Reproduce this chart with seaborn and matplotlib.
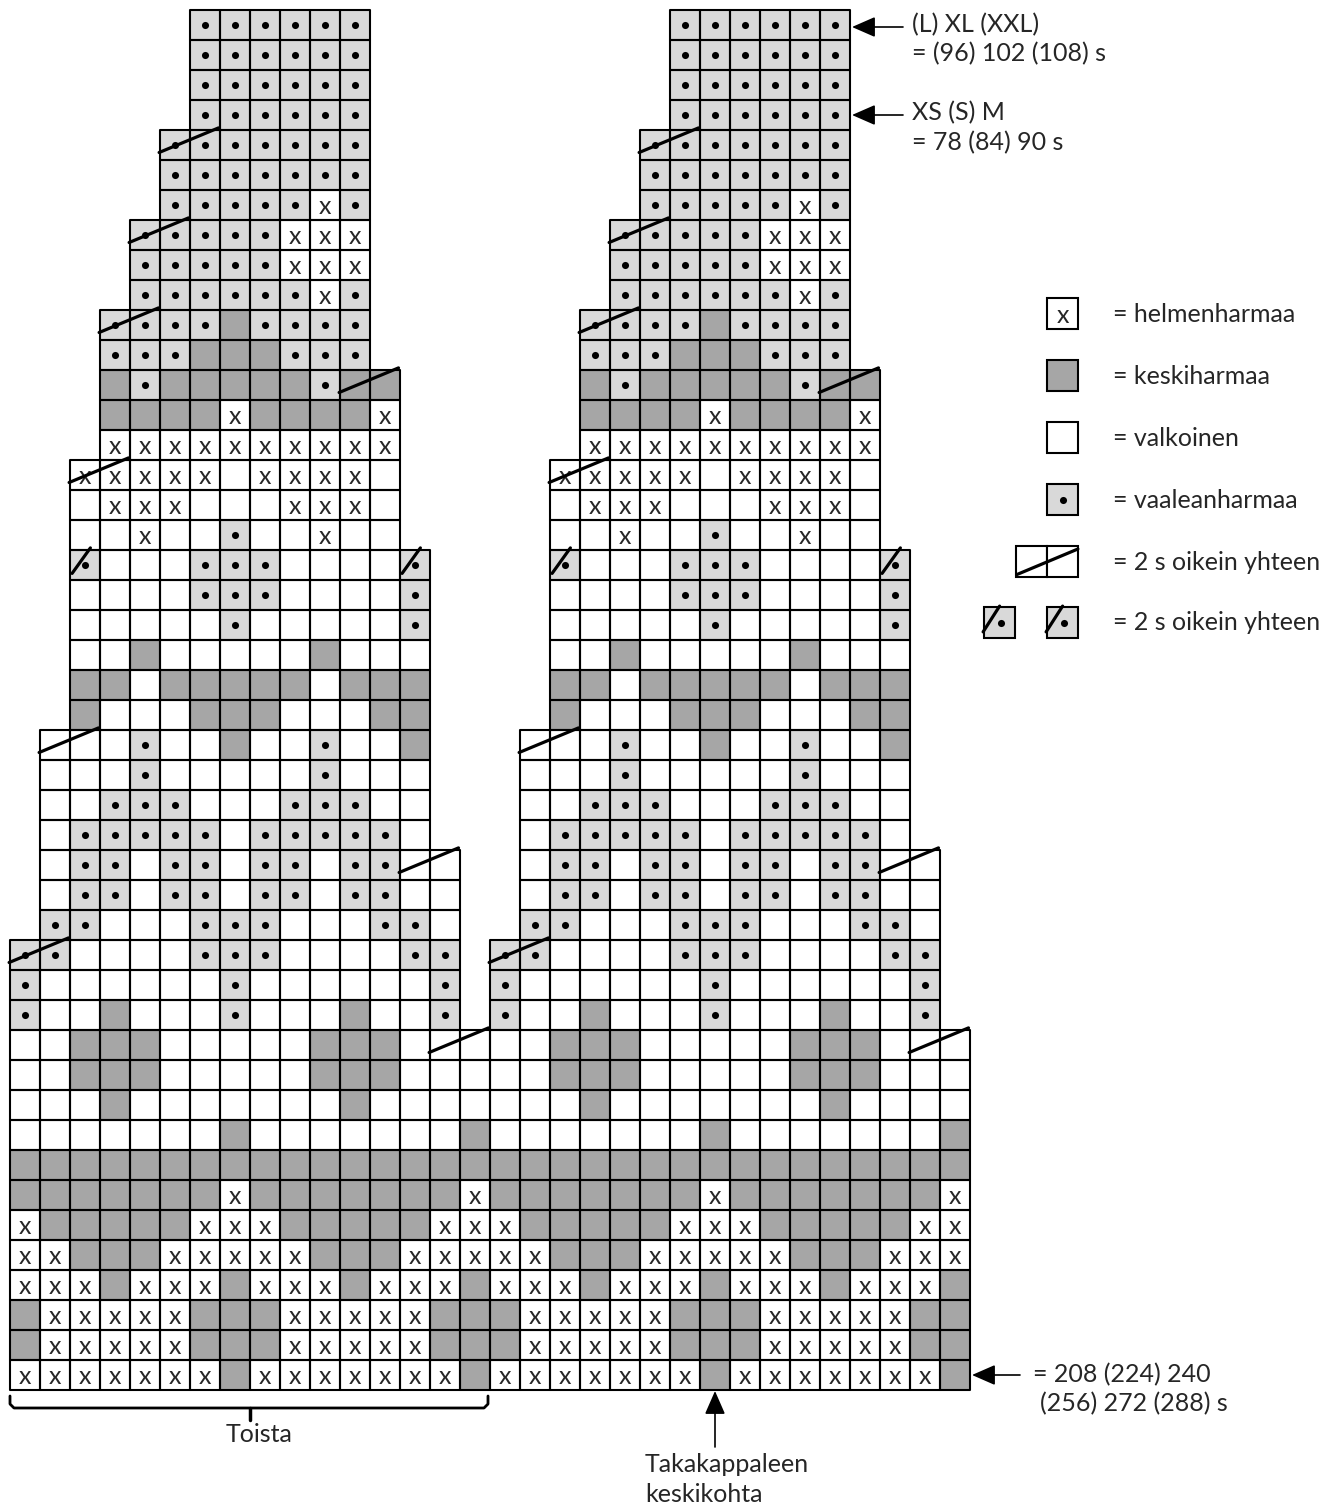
import numpy as np
import pandas as pd
import matplotlib
matplotlib.use('Agg')
import matplotlib.pyplot as plt
from matplotlib.colors import ListedColormap
from matplotlib.patches import Rectangle
from matplotlib.collections import PatchCollection
import seaborn as sns

# ---- chart data: rows from top to bottom ----
# x = helmenharmaa, d = keskiharmaa, w = valkoinen, o = vaaleanharmaa
row_start = [6, 6, 6, 6, 5, 5, 5, 4, 4, 4, 3, 3, 3, 3, 3,
             2, 2, 2, 2, 2, 2, 2, 2, 2, 1, 1, 1, 1, 1, 1, 1,
             0, 0, 0, 0, 0, 0, 0, 0, 0, 0, 0, 0, 0, 0, 0]
row_cells = [
    "oooooo", "oooooo", "oooooo", "oooooo",
    "ooooooo", "ooooooo", "oooooxo",
    "oooooxxx", "oooooxxx", "ooooooxo",
    "oooodoooo", "ooodddooo", "dodddddodd", "ddddxddddx", "xxxxxxxxxx",
    "xxxxxwxxxxw", "wxxxwwwxxxw", "wwxwwowwxww",
    "owwwooowwwwo", "wwwwooowwwwo", "wwwwwowwwwwo",
    "wwdwwwwwdwww", "ddwdddddwddd", "dwwwdddwwwdd",
    "wwwowwdwwowwd", "wwwowwwwwowww", "wwooowwwoooww", "wooooowooooow",
    "woowoowoowooww", "woowoowoowooww", "oowwwooowwwoow",
    "oowwwwooowwwwoo", "owwwwwwowwwwwwo", "owwdwwwowwwdwwo",
    "wwdddwwwwwdddwww", "wwdddwwwwwdddwww", "wwwdwwwwwwwdwwww",
    "wwwwwwwdwwwwwwwd", "dddddddddddddddd", "dddddddxdddddddx",
    "xdddddxxxdddddxx", "xxdddxxxxxdddxxx", "xxxdxxxdxxxdxxxd",
    "dxxxxxdddxxxxxdd", "dxxxxxdddxxxxxdd", "xxxxxxxdxxxxxxxd",
]
# decreases: (row counted from bottom, left column)
two_together = [(41, 5), (38, 4), (35, 3), (33, 11), (30, 2),
                (21, 1), (17, 13), (14, 0), (11, 14)]
slash_cells = [(27, 2), (27, 13)]
chart_cols = 16
repeats = 2

legend_labels = ["= helmenharmaa", "= keskiharmaa", "= valkoinen",
                 "= vaaleanharmaa", "= 2 s oikein yhteen", "= 2 s oikein yhteen"]

colour_value = {'x': 0, 'w': 0, 'o': 1, 'd': 2}
light = '#d9d9d9'
dark = '#a6a6a6'

# ---- build grid ----
n_rows = len(row_cells)
n_cols = chart_cols * repeats
codes = np.full((n_rows, n_cols), '', dtype=object)
for i, (s, cells) in enumerate(zip(row_start, row_cells)):
    for k in range(repeats):
        for j, ch in enumerate(cells):
            codes[i, k * chart_cols + s + j] = ch

vals = pd.DataFrame([[colour_value.get(c, np.nan) for c in row] for row in codes], dtype=float)

sns.set_style('white')
plt.rcParams['font.family'] = ['Lato', 'DejaVu Sans']

fig = plt.figure(figsize=(13.38, 15.08), dpi=100)
ax = fig.add_axes([0, 0, 1, 1])
sns.heatmap(vals, mask=vals.isna(), cmap=ListedColormap(['white', light, dark]),
            vmin=-0.5, vmax=2.5, linewidths=0, cbar=False,
            xticklabels=False, yticklabels=False, ax=ax)

# cell borders only where there is a stitch
edges = [Rectangle((j, i), 1, 1) for i in range(n_rows) for j in range(n_cols) if codes[i, j]]
ax.add_collection(PatchCollection(edges, facecolor='none', edgecolor='black',
                                  linewidth=1.5, zorder=2))


def px(x, y):
    # pixel position of the picture -> cell units
    return (x - 10) / 30, (y - 10) / 30


ax.set_xlim(px(0, 0)[0], px(1338, 0)[0])
ax.set_ylim(px(0, 1508)[1], px(0, 0)[1])
ax.axis('off')

# symbols in cells
dot_x, dot_y = [], []
for i in range(n_rows):
    for j in range(n_cols):
        if codes[i, j] == 'x':
            ax.text(j + 0.5, i + 0.55, 'x', ha='center', va='center', fontsize=18)
        elif codes[i, j] == 'o':
            dot_x.append(j + 0.5)
            dot_y.append(i + 0.5)
ax.scatter(dot_x, dot_y, s=26, color='black', zorder=3, linewidths=0)

for r, c in two_together:
    i = n_rows - 1 - r
    for k in range(repeats):
        x0 = k * chart_cols + c
        ax.plot([x0 - 0.03, x0 + 1.95], [i + 0.75, i - 0.07], color='black',
                lw=2.3, solid_capstyle='round', zorder=4)
for r, c in slash_cells:
    i = n_rows - 1 - r
    for k in range(repeats):
        x0 = k * chart_cols + c
        ax.plot([x0 + 0.07, x0 + 0.68], [i + 0.78, i - 0.07], color='black',
                lw=2.3, solid_capstyle='round', zorder=4)

# ---- legend ----
legend_y = [298, 360, 422, 484, 546, 607]
text_kw = dict(fontsize=18, va='center')
lw_box = 1.5


def box(x, y, fc):
    x0, y0 = px(x, y)
    ax.add_patch(Rectangle((x0, y0), 31 / 30, 31 / 30, fc=fc, ec='black', lw=lw_box, zorder=5))
    return x0, y0


x0, y0 = box(1047, legend_y[0], 'white')
ax.text(x0 + 0.52, y0 + 0.58, 'x', ha='center', va='center', fontsize=18, zorder=6)
box(1047, legend_y[1], dark)
box(1047, legend_y[2], 'white')
x0, y0 = box(1047, legend_y[3], light)
ax.scatter([x0 + 0.52], [y0 + 0.52], s=26, color='black', zorder=6, linewidths=0)
box(1016, legend_y[4], 'white')
x0, y0 = box(1047, legend_y[4], 'white')
ax.plot([x0 - 1.0, x0 + 1.03], [y0 + 0.95, y0 + 0.1], color='black', lw=2.3, zorder=6)
for bx in (984, 1047):
    x0, y0 = box(bx, legend_y[5], light)
    ax.scatter([x0 + 0.58], [y0 + 0.52], s=26, color='black', zorder=6, linewidths=0)
    ax.plot([x0 - 0.03, x0 + 0.52], [y0 + 0.83, y0 - 0.03], color='black', lw=2.3, zorder=7)
for ly, lab in zip(legend_y, legend_labels):
    ax.text(*px(1113, ly + 16), lab, **text_kw)

# ---- annotations ----
arrow = dict(arrowstyle='-|>,head_length=0.8,head_width=0.35', color='black', lw=1.2,
             mutation_scale=18, shrinkA=0, shrinkB=0)
ax.annotate('', xy=px(852, 27), xytext=px(903, 27), arrowprops=arrow)
ax.text(*px(912, 25), '(L) XL (XXL)', **text_kw)
ax.text(*px(912, 54), '= (96) 102 (108) s', **text_kw)
ax.annotate('', xy=px(852, 115), xytext=px(903, 115), arrowprops=arrow)
ax.text(*px(912, 113), 'XS (S) M', **text_kw)
ax.text(*px(912, 143), '= 78 (84) 90 s', **text_kw)

ax.annotate('', xy=px(972, 1375), xytext=px(1020, 1375), arrowprops=arrow)
ax.text(*px(1033, 1375), '= 208 (224) 240', **text_kw)
ax.text(*px(1040, 1404), '(256) 272 (288) s', **text_kw)

ax.annotate('', xy=px(715, 1391), xytext=px(715, 1447), arrowprops=arrow)
ax.text(*px(645, 1465), 'Takakappaleen', **text_kw)
ax.text(*px(645, 1494), 'keskikohta', **text_kw)

# brace under the repeat
bx, by = zip(*[px(10, 1396), px(10, 1404), px(14, 1408), px(484, 1408),
               px(488, 1404), px(488, 1396)])
ax.plot(bx, by, color='black', lw=2)
tx, ty = zip(*[px(250, 1408), px(250, 1420)])
ax.plot(tx, ty, color='black', lw=2.5)
ax.text(*px(259, 1435), 'Toista', ha='center', va='center', fontsize=18)

fig.savefig('out.png', dpi=100)
